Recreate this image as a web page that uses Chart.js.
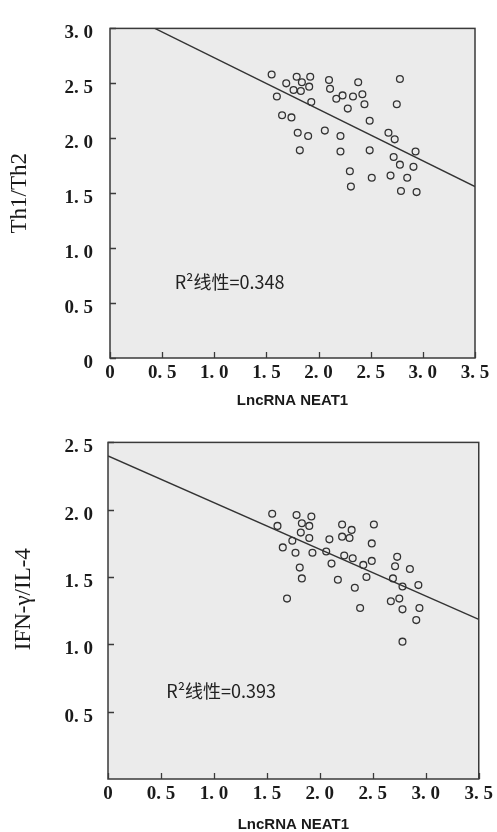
<!DOCTYPE html>
<html><head><meta charset="utf-8">
<script src="https://cdn.jsdelivr.net/npm/chart.js@4"></script>
<style>
html,body{margin:0;padding:0;background:#fff;width:497px;height:832px;overflow:hidden}
canvas{position:absolute;left:0}
#c1{top:0}#c2{top:416px}
</style></head><body>
<canvas id="c1" width="497" height="416"></canvas>
<canvas id="c2" width="497" height="416"></canvas>
<script>
// ---- data ----
const xTicks = [0, 0.5, 1, 1.5, 2, 2.5, 3, 3.5];
const th1Ticks = [0, 0.5, 1, 1.5, 2, 2.5, 3];
const ifnTicks = [0.5, 1, 1.5, 2, 2.5];

const neat1A = [1.55,1.60,1.65,1.69,1.74,1.76,1.79,1.80,1.82,1.84,1.83,1.90,1.91,1.92,1.93,2.06,2.10,2.11,2.17,2.21,2.21,2.23,2.28,2.30,2.31,2.33,2.38,2.42,2.44,2.49,2.49,2.51,2.67,2.69,2.72,2.73,2.75,2.78,2.78,2.79,2.85,2.91,2.93,2.94];
const th1th2 = [2.58,2.38,2.21,2.50,2.19,2.44,2.56,2.05,1.89,2.51,2.43,2.02,2.47,2.56,2.33,2.07,2.53,2.45,2.36,2.02,1.88,2.39,2.27,1.70,1.56,2.38,2.51,2.40,2.31,2.16,1.89,1.64,2.05,1.66,1.83,1.99,2.31,2.54,1.76,1.52,1.64,1.74,1.88,1.51];
const fitAx = [0.43, 3.5];
const fitAy = [3.0, 1.56];

const neat1B = [1.55,1.60,1.65,1.69,1.74,1.77,1.78,1.81,1.82,1.83,1.83,1.90,1.90,1.92,1.93,2.06,2.09,2.11,2.17,2.21,2.21,2.23,2.28,2.30,2.31,2.33,2.38,2.41,2.44,2.49,2.49,2.51,2.67,2.69,2.71,2.73,2.75,2.78,2.78,2.78,2.85,2.91,2.93,2.94];
const ifnIl4 = [1.97,1.88,1.72,1.34,1.77,1.68,1.96,1.57,1.83,1.90,1.49,1.88,1.79,1.95,1.68,1.69,1.78,1.60,1.48,1.89,1.80,1.66,1.79,1.85,1.64,1.42,1.27,1.59,1.50,1.62,1.75,1.89,1.32,1.49,1.58,1.65,1.34,1.02,1.43,1.26,1.56,1.18,1.44,1.27];
const fitBx = [0, 3.5];
const fitBy = [2.40, 1.185];

const r2A = 'R²线性=0.348';
const r2B = 'R²线性=0.393';
const xTitle = 'LncRNA NEAT1';
const yTitleA = 'Th1/Th2';
const yTitleB = 'IFN-γ/IL-4';

// ---- drawing helpers ----
const fmt = v => v === 0 ? '0' : v.toFixed(1).replace('.', '. ');

const frame = {
  id: 'frame',
  beforeDraw(chart) {
    const {ctx, chartArea: a} = chart;
    ctx.save();
    ctx.fillStyle = '#ebebeb';
    ctx.fillRect(a.left, a.top, a.width, a.height);
    ctx.restore();
  },
  afterDraw(chart, args, o) {
    const {ctx, chartArea: a, scales: {x, y}} = chart;
    ctx.save();
    ctx.strokeStyle = '#3a3a3a';
    ctx.lineWidth = 1.5;
    ctx.strokeRect(a.left, a.top, a.width, a.height);
    ctx.lineWidth = 1.3;
    ctx.beginPath();
    x.ticks.forEach(t => { const p = Math.round(x.getPixelForValue(t.value)) + 0.5; ctx.moveTo(p, a.bottom); ctx.lineTo(p, a.bottom - 6); });
    y.ticks.forEach(t => { const p = Math.round(y.getPixelForValue(t.value)) + 0.5; ctx.moveTo(a.left, p); ctx.lineTo(a.left + 6, p); });
    ctx.stroke();
    ctx.font = '18px "Noto Sans CJK SC", sans-serif';
    ctx.fillStyle = '#222';
    ctx.textBaseline = 'middle';
    ctx.textAlign = 'left';
    ctx.fillText(o.text, x.getPixelForValue(o.x), y.getPixelForValue(o.y));
    ctx.restore();
  }
};

function makeChart(id, xs, ys, fx, fy, yTicks, yMax, yTitle, yTitlePad, cfg) {
  const pts = xs.map((v, i) => ({x: v, y: ys[i]}));
  const fit = fx.map((v, i) => ({x: v, y: fy[i]}));
  return new Chart(document.getElementById(id), {
    type: 'scatter',
    data: {datasets: [
      {data: pts, pointRadius: 3.4, pointBorderWidth: 1.3, borderColor: '#333', backgroundColor: 'rgba(0,0,0,0)', pointHoverRadius: 3.4},
      {type: 'line', data: fit, showLine: true, pointRadius: 0, borderColor: '#333', borderWidth: 1.4, fill: false}
    ]},
    options: {
      responsive: false, animation: false, events: [],
      layout: {padding: {top: cfg.padTop, right: cfg.padRight, left: 0, bottom: 0}},
      plugins: {legend: {display: false}, tooltip: {enabled: false},
        frame: {text: cfg.text, x: cfg.tx, y: cfg.ty}},
      scales: {
        x: {
          type: 'linear', min: 0, max: 3.5,
          afterBuildTicks: s => { s.ticks = xTicks.map(v => ({value: v})); },
          afterFit: s => { s.height = cfg.xH; },
          grid: {display: false, drawTicks: false}, border: {display: false},
          ticks: {padding: 4, autoSkip: false, maxRotation: 0, color: '#1a1a1a',
            font: {family: '"Liberation Serif", serif', weight: 'bold', size: 19}, callback: v => fmt(v)},
          title: {display: true, text: xTitle, color: '#1a1a1a',
            font: {family: '"Liberation Sans", Arial, sans-serif', weight: 'bold', size: 15, lineHeight: 1},
            padding: {top: 0, bottom: cfg.xTitlePad}}
        },
        y: {
          type: 'linear', min: 0, max: yMax,
          afterBuildTicks: s => { s.ticks = yTicks.map(v => ({value: v})); },
          afterFit: s => { s.width = cfg.yW; },
          grid: {display: false, drawTicks: false}, border: {display: false},
          ticks: {padding: cfg.yPad, labelOffset: 5, autoSkip: false, color: '#1a1a1a',
            font: {family: '"Liberation Serif", serif', weight: 'bold', size: 19}, callback: v => fmt(v)},
          title: {display: true, text: yTitle, color: '#1a1a1a',
            font: {family: '"Liberation Serif", serif', size: cfg.yFont, lineHeight: 1},
            padding: {top: yTitlePad, bottom: 0}}
        }
      }
    },
    plugins: [frame]
  });
}

makeChart('c1', neat1A, th1th2, fitAx, fitAy, th1Ticks, 3, yTitleA, 8,
  {padTop: 14, padRight: 22, xH: 58, yW: 110, yPad: 17, xTitlePad: 8, yFont: 23, text: r2A, tx: 0.62, ty: 0.69});
makeChart('c2', neat1B, ifnIl4, fitBx, fitBy, ifnTicks, 2.5, '\u2002\u2002' + yTitleB, 12,
  {padTop: 17, padRight: 16, xH: 53, yW: 108, yPad: 15, xTitlePad: 0, yFont: 23, text: r2B, tx: 0.55, ty: 0.65});
</script>
</body></html>
